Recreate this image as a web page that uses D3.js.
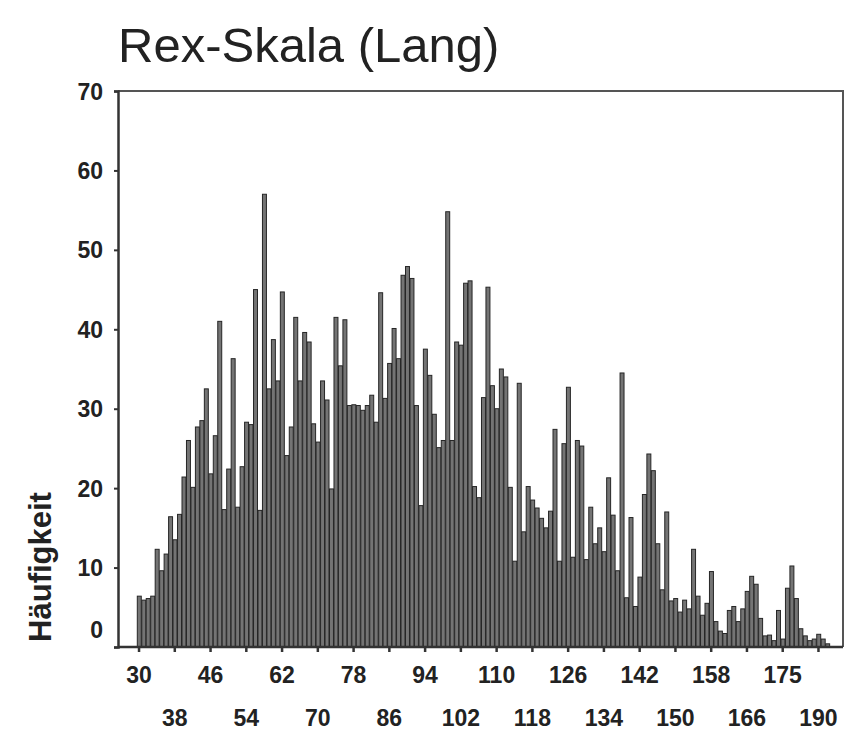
<!DOCTYPE html>
<html>
<head>
<meta charset="utf-8">
<script src="https://cdn.jsdelivr.net/npm/d3@7"></script>
<style>
  html, body { margin: 0; padding: 0; background: #fff; }
  svg { display: block; }
</style>
</head>
<body>
<svg id="chart" width="845" height="732"></svg>
<script>
// Score values that occur (categories on the x axis)
const categories = d3.range(30, 167).concat([167, 168, 169, 170, 171, 172, 174, 175, 176, 177, 178, 180, 182, 185, 187, 190, 191, 192]);

// Frequency (Häufigkeit) of each score value
const counts = [
  6.4, 5.9, 6.1, 6.4, 12.3, 9.6, 11.7, 16.4, 13.5, 16.7,
  21.4, 26.0, 20.1, 27.7, 28.5, 32.5, 21.8, 26.6, 41.0, 17.3,
  22.4, 36.3, 17.6, 22.7, 28.3, 28.0, 45.0, 17.2, 57.0, 32.5,
  38.7, 33.5, 44.7, 24.1, 27.7, 41.5, 33.5, 39.6, 38.4, 28.1,
  25.8, 33.5, 31.1, 19.9, 41.5, 35.4, 41.2, 30.4, 30.5, 30.4,
  29.8, 30.4, 31.7, 28.3, 44.6, 31.3, 35.7, 40.1, 36.3, 46.8,
  47.9, 46.4, 30.4, 17.8, 37.5, 34.2, 29.3, 25.1, 26.0, 54.8,
  26.0, 38.4, 38.0, 45.8, 46.1, 20.2, 18.8, 31.4, 45.3, 32.9,
  30.0, 35.0, 34.0, 20.1, 10.8, 33.2, 14.5, 20.2, 18.5, 17.5,
  16.2, 15.0, 17.1, 27.4, 10.8, 25.6, 32.7, 11.3, 26.0, 25.3,
  11.0, 17.6, 13.0, 15.0, 12.0, 21.3, 16.6, 9.6, 34.5, 6.2,
  16.3, 5.1, 8.8, 19.2, 24.3, 22.2, 13.0, 7.2, 17.0, 5.8,
  6.1, 4.4, 5.9, 4.8, 12.3, 6.4, 4.0, 5.5, 9.5, 3.2,
  2.0, 1.7, 4.6, 5.1, 3.2, 4.8, 7.0, 8.9, 7.9, 3.6,
  1.4, 1.5, 0.8, 4.6, 1.0, 7.4, 10.2, 6.1, 2.3, 1.4,
  0.8, 1.0, 1.6, 1.0, 0.4
];

// Labelled x ticks (every eighth category) and y ticks
const xTickLabels = [30, 38, 46, 54, 62, 70, 78, 86, 94, 102, 110, 118, 126, 134, 142, 150, 158, 166, 175, 190];
const yTickValues = [0, 10, 20, 30, 40, 50, 60, 70];

const title = "Rex-Skala (Lang)";
const yTitle = "Häufigkeit";

const data = categories.map((c, i) => ({ cat: c, n: counts[i] }));

const svg = d3.select("#chart");
const frame = { left: 118, top: 91, right: 843, bottom: 647 };
const font = "Liberation Sans, Arial, sans-serif";

const x = d3.scaleBand()
  .domain(categories)
  .range([136.8, 136.8 + 4.47 * categories.length])
  .padding(0);

const y = d3.scaleLinear()
  .domain([0, 70])
  .range([frame.bottom, frame.top]);

// Frame: top and right edges
svg.append("path")
  .attr("d", `M${frame.left},${frame.top}H${frame.right}V${frame.bottom}`)
  .attr("fill", "none")
  .attr("stroke", "#555")
  .attr("stroke-width", 2);

// Bars
svg.append("g")
  .selectAll("rect")
  .data(data)
  .join("rect")
  .attr("x", d => x(d.cat) + 0.5)
  .attr("width", x.bandwidth() - 0.5)
  .attr("y", d => y(d.n))
  .attr("height", d => y(0) - y(d.n))
  .attr("fill", "#747474")
  .attr("stroke", "#262626")
  .attr("stroke-width", 1);

// Y axis
const yAxis = svg.append("g")
  .attr("transform", `translate(${frame.left},0)`)
  .call(d3.axisLeft(y).tickValues(yTickValues).tickSize(4).tickPadding(11));
yAxis.select(".domain").attr("stroke", "#333").attr("stroke-width", 2.5);
yAxis.selectAll(".tick line").attr("stroke", "#333").attr("stroke-width", 2);
yAxis.selectAll(".tick text")
  .attr("font-family", font)
  .attr("font-size", 23)
  .attr("font-weight", "bold")
  .attr("fill", "#222")
  .attr("dy", d => d === 0 ? "-0.4em" : "0.35em");

// X axis
const xLabelled = categories.filter(c => xTickLabels.includes(c));
const xAxis = svg.append("g")
  .attr("transform", `translate(0,${frame.bottom})`)
  .call(d3.axisBottom(x).tickValues(xLabelled).tickSize(5).tickPadding(0));
xAxis.select(".domain")
  .attr("d", `M${frame.left},0H${frame.right}`)
  .attr("stroke", "#333").attr("stroke-width", 2.5);
xAxis.selectAll(".tick line").attr("stroke", "#333").attr("stroke-width", 2.5);
xAxis.selectAll(".tick text")
  .attr("font-family", font)
  .attr("font-size", 23)
  .attr("font-weight", "bold")
  .attr("fill", "#222")
  .attr("dy", null)
  .attr("y", d => xTickLabels.indexOf(d) % 2 === 0 ? 36 : 79);

// Title
svg.append("text")
  .attr("x", 118)
  .attr("y", 62)
  .attr("font-family", font)
  .attr("font-size", 49)
  .attr("fill", "#222")
  .text(title);

// Y axis title
svg.append("text")
  .attr("transform", "translate(51,567) rotate(-90)")
  .attr("text-anchor", "middle")
  .attr("font-family", font)
  .attr("font-size", 31)
  .attr("font-weight", "bold")
  .attr("fill", "#222")
  .text(yTitle);
</script>
</body>
</html>
